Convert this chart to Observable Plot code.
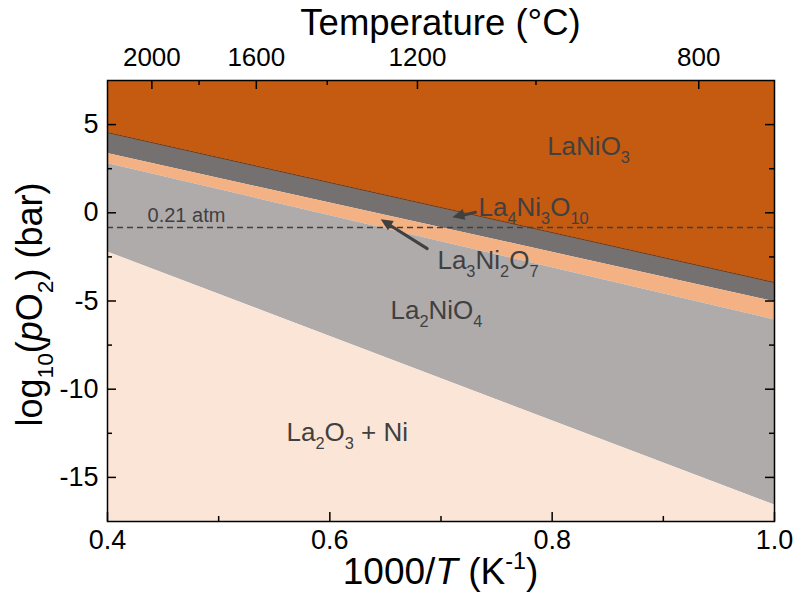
<!DOCTYPE html>
<html>
<head>
<meta charset="utf-8">
<script src="https://cdn.jsdelivr.net/npm/d3@7"></script>
<script src="https://cdn.jsdelivr.net/npm/@observablehq/plot@0.6"></script>
<style>
  html, body { margin: 0; padding: 0; background: #fff; }
  #chart { width: 796px; height: 596px; }
</style>
</head>
<body>
<div id="chart"></div>
<script>
// ---- data ----
const xEnds = [0.4, 1.0];                 // 1000/T (K^-1) at the plot edges
const bLaNiO3 = [4.55, -3.95];            // LaNiO3 | La4Ni3O10 boundary, log10 pO2
const bLa4Ni3O10 = [3.36, -5.04];         // La4Ni3O10 | La3Ni2O7
const bLa3Ni2O7 = [2.80, -6.07];          // La3Ni2O7 | La2NiO4
const bLa2NiO4 = [-2.22, -16.57];         // La2NiO4 | La2O3 + Ni
const yDomain = [-17.5, 7.5];
const airLevel = -0.83;                    // 0.21 atm dashed line
const xMajor = [0.4, 0.6, 0.8, 1.0];
const xMinor = [0.5, 0.7, 0.9];
const yMajor = [5, 0, -5, -10, -15];
const yMinor = [2.5, -2.5, -7.5, -12.5];
const tempMajor = [2000, 1600, 1200, 800]; // °C
const tempMinor = [1800, 1400, 1000];
const phaseNames = ["LaNiO_3", "La_4Ni_3O_{10}", "La_3Ni_2O_7", "La_2NiO_4", "La_2O_3 + Ni"];
const phaseColors = ["#C55A11", "#767171", "#F4B183", "#AFABAB", "#FBE5D6"];
const labelX = [0.7955, 0.7337, 0.6968, 0.6546, 0.561];
const labelY = [3.75, 0.30, -2.71, -5.57, -12.45];
const arrowX1 = [0.731, 0.6876], arrowY1 = [0.03, -2.03];
const arrowX2 = [0.7107, 0.6462], arrowY2 = [-0.28, -0.39];
const airLabel = "0.21 atm", airLabelX = 0.436, airLabelY = -0.15;

// ---- build tables ----
const rows = xEnds.map((x, i) => ({
  x, top: yDomain[1], b1: bLaNiO3[i], b2: bLa4Ni3O10[i], b3: bLa3Ni2O7[i], b4: bLa2NiO4[i], bottom: yDomain[0]
}));
const labels = phaseNames.map((t, i) => ({t, x: labelX[i], y: labelY[i]}));
const arrows = arrowX1.map((d, i) => ({x1: arrowX1[i], y1: arrowY1[i], x2: arrowX2[i], y2: arrowY2[i]}));
const toInvT = c => 1000 / (c + 273.15);

const W = 796, H = 596, mL = 107, mR = 22, mT = 80, mB = 75;
const frameH = H - mT - mB, frameW = W - mL - mR;
const FONT = "'Liberation Sans', Arial, Helvetica, sans-serif";
const TXT = "#404040";

const plot = Plot.plot({
  width: W, height: H,
  marginLeft: mL, marginRight: mR, marginTop: mT, marginBottom: mB,
  style: {fontFamily: FONT, fontSize: "27px", color: "black", background: "white", overflow: "visible"},
  x: {domain: [0.4, 1.0]},
  y: {domain: yDomain},
  marks: [
    Plot.areaY(rows, {x: "x", y1: "b1", y2: "top", fill: phaseColors[0]}),
    Plot.areaY(rows, {x: "x", y1: "b2", y2: "b1", fill: phaseColors[1]}),
    Plot.areaY(rows, {x: "x", y1: "b3", y2: "b2", fill: phaseColors[2]}),
    Plot.areaY(rows, {x: "x", y1: "b4", y2: "b3", fill: phaseColors[3]}),
    Plot.areaY(rows, {x: "x", y1: "bottom", y2: "b4", fill: phaseColors[4]}),
    Plot.line(rows, {x: "x", y: "b1", stroke: "#7a360a", strokeWidth: 1}),
    Plot.ruleY([airLevel], {stroke: TXT, strokeWidth: 1.5, strokeDasharray: "6,4"}),
    Plot.text([airLabel], {x: airLabelX, y: airLabelY, text: d => d, textAnchor: "start", fill: TXT, fontSize: 20}),
    Plot.text(labels, {x: "x", y: "y", text: "t", textAnchor: "start", fill: TXT, fontSize: 26}),
    Plot.arrow(arrows, {x1: "x1", y1: "y1", x2: "x2", y2: "y2", stroke: TXT, strokeWidth: 3, headLength: 0, insetEnd: 8}),
    // inward ticks
    Plot.ruleX(xMajor, {x: d => d, insetTop: frameH - 9, stroke: "black", strokeWidth: 1.5}),
    Plot.ruleX(xMinor, {x: d => d, insetTop: frameH - 5, stroke: "black", strokeWidth: 1.5}),
    Plot.ruleX(tempMajor.map(toInvT), {x: d => d, insetBottom: frameH - 9, stroke: "black", strokeWidth: 1.5}),
    Plot.ruleX(tempMinor.map(toInvT), {x: d => d, insetBottom: frameH - 5, stroke: "black", strokeWidth: 1.5}),
    Plot.ruleY(yMajor, {y: d => d, insetRight: frameW - 9, stroke: "black", strokeWidth: 1.5}),
    Plot.ruleY(yMinor, {y: d => d, insetRight: frameW - 5, stroke: "black", strokeWidth: 1.5}),
    Plot.ruleY(yMajor, {y: d => d, insetLeft: frameW - 9, stroke: "black", strokeWidth: 1.5}),
    Plot.ruleY(yMinor, {y: d => d, insetLeft: frameW - 5, stroke: "black", strokeWidth: 1.5}),
    Plot.frame({stroke: "black", strokeWidth: 1.5}),
    Plot.axisX({anchor: "bottom", ticks: xMajor, tickSize: 0, tickPadding: 8, tickFormat: d => d.toFixed(1), label: null, fill: "black"}),
    Plot.axisX({anchor: "top", ticks: tempMajor.map(toInvT), tickSize: 0, tickPadding: 15, fontSize: 26, tickFormat: d => String(Math.round(1000 / d - 273.15)), label: null, fill: "black"}),
    Plot.axisY({anchor: "left", ticks: yMajor, tickSize: 0, tickPadding: 9, tickFormat: d => String(d), label: null, fill: "black"})
  ]
});

// ---- rich text: _x / _{..} subscripts, ^{..} superscripts, *..* italics ----
function richify(el, s, fs) {
  const parts = [];
  const re = /_\{([^}]*)\}|_(.)|\^\{([^}]*)\}|\*([^*]*)\*|([^_^*]+)/g;
  let m;
  while ((m = re.exec(s))) {
    if (m[1] !== undefined || m[2] !== undefined) parts.push({t: m[1] ?? m[2], k: "sub"});
    else if (m[3] !== undefined) parts.push({t: m[3], k: "sup"});
    else if (m[4] !== undefined) parts.push({t: m[4], k: "it"});
    else parts.push({t: m[5], k: "n"});
  }
  while (el.firstChild) el.removeChild(el.firstChild);
  const ns = "http://www.w3.org/2000/svg";
  let shift = 0;
  for (const p of parts) {
    const ts = document.createElementNS(ns, "tspan");
    let target = 0;
    if (p.k === "sub") { target = 0.30 * fs; ts.setAttribute("font-size", (0.63 * fs) + "px"); }
    else if (p.k === "sup") { target = -0.40 * fs; ts.setAttribute("font-size", (0.63 * fs) + "px"); }
    if (p.k === "it") ts.setAttribute("font-style", "italic");
    const dy = target - shift;
    if (dy !== 0) ts.setAttribute("dy", dy + "px");
    shift = target;
    ts.textContent = p.t;
    el.appendChild(ts);
  }
}

const svg = d3.select(plot);
document.getElementById("chart").appendChild(plot);
svg.selectAll("text").each(function () {
  const s = this.textContent;
  if (/[_^*]/.test(s)) {
    const fs = parseFloat(getComputedStyle(this).fontSize) || 26;
    richify(this, s, fs);
  }
});

// filled arrowheads placed through the plot's own scales
const sx = plot.scale("x"), sy = plot.scale("y");
for (const a of arrows) {
  const x1 = sx.apply(a.x1), y1 = sy.apply(a.y1), x2 = sx.apply(a.x2), y2 = sy.apply(a.y2);
  const len = Math.hypot(x2 - x1, y2 - y1), ux = (x2 - x1) / len, uy = (y2 - y1) / len;
  const hl = 12, hw = 5.5;
  const bx = x2 - ux * hl, by = y2 - uy * hl;
  svg.append("path")
    .attr("d", `M${x2},${y2}L${bx - uy * hw},${by + ux * hw}L${bx + uy * hw},${by - ux * hw}Z`)
    .attr("fill", TXT);
}

// axis titles
function addTitle(str, x, y, fs, rotate) {
  const t = svg.append("text")
    .attr("text-anchor", "middle")
    .attr("font-size", fs + "px")
    .attr("font-family", FONT)
    .attr("fill", "black")
    .attr("transform", `translate(${x},${y})` + (rotate ? ` rotate(${rotate})` : ""));
  richify(t.node(), str, fs);
}
addTitle("Temperature (°C)", mL + frameW / 2, 35, 36.5);
addTitle("1000/*T* (K^{-1})", mL + frameW / 2, 584, 37);
addTitle("log_{10}(*p*O_2) (bar)", 42, mT + frameH / 2 + 4, 36, -90);
</script>
</body>
</html>
